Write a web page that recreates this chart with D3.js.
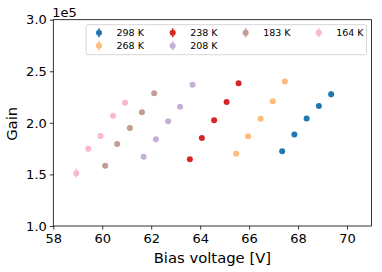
<!DOCTYPE html>
<html>
<head>
<meta charset="utf-8">
<script src="https://d3js.org/d3.v7.min.js"></script>
<style>
  body { margin: 0; background: #fff; }
  text { font-family: "DejaVu Sans", sans-serif; fill: #000; }
</style>
</head>
<body>
<div id="chart"></div>
<script>
// temperatures and colours (tab20 picks)
var temps = ["298 K", "268 K", "238 K", "208 K", "183 K", "164 K"];
var colors = ["#1f77b4", "#ffbb78", "#d62728", "#c5b0d5", "#c49c94", "#f7b6d2"];

// bias voltage per series [V]
var volt298 = [67.35, 67.85, 68.35, 68.85, 69.35];
var volt268 = [65.47, 65.96, 66.47, 66.97, 67.46];
var volt238 = [63.58, 64.07, 64.57, 65.08, 65.57];
var volt208 = [61.69, 62.19, 62.69, 63.18, 63.69];
var volt183 = [60.12, 60.61, 61.13, 61.62, 62.12];
var volt164 = [58.94, 59.43, 59.93, 60.44, 60.93];

// gain per series [x1e5]
var gain298 = [1.725, 1.886, 2.041, 2.164, 2.277];
var gain268 = [1.70, 1.87, 2.04, 2.21, 2.40];
var gain238 = [1.647, 1.854, 2.025, 2.203, 2.384];
var gain208 = [1.672, 1.841, 2.015, 2.157, 2.37];
var gain183 = [1.585, 1.795, 1.951, 2.103, 2.287];
var gain164 = [1.512, 1.75, 1.873, 2.07, 2.196];

// error bars [x1e5]
var err298 = [0.008, 0.008, 0.01, 0.012, 0.03];
var err268 = [0.006, 0.006, 0.008, 0.01, 0.012];
var err238 = [0.006, 0.006, 0.008, 0.01, 0.012];
var err208 = [0.006, 0.006, 0.008, 0.01, 0.012];
var err183 = [0.006, 0.006, 0.008, 0.01, 0.012];
var err164 = [0.045, 0.01, 0.01, 0.012, 0.012];

var xTicks = [58, 60, 62, 64, 66, 68, 70];
var yTicks = [1.0, 1.5, 2.0, 2.5, 3.0];

var volts = [volt298, volt268, volt238, volt208, volt183, volt164];
var gains = [gain298, gain268, gain238, gain208, gain183, gain164];
var errs = [err298, err268, err238, err208, err183, err164];

var W = 382, H = 272;
var m = {left: 53.3, right: 10.5, top: 19.7, bottom: 46};
var pw = W - m.left - m.right, ph = H - m.top - m.bottom;

var svg = d3.select("#chart").append("svg")
  .attr("width", W).attr("height", H);

var x = d3.scaleLinear().domain([58, 71]).range([0, pw]);
var y = d3.scaleLinear().domain([1.0, 3.0]).range([ph, 0]);

var g = svg.append("g").attr("transform", "translate(" + m.left + "," + m.top + ")");

// points with error bars
temps.forEach(function(t, k) {
  var pts = volts[k].map(function(v, i) { return {v: v, g: gains[k][i], e: errs[k][i]}; });
  var s = g.append("g");
  s.selectAll("line").data(pts).enter().append("line")
    .attr("x1", function(d) { return x(d.v); })
    .attr("x2", function(d) { return x(d.v); })
    .attr("y1", function(d) { return y(d.g - d.e); })
    .attr("y2", function(d) { return y(d.g + d.e); })
    .attr("stroke", colors[k]).attr("stroke-width", 1.5);
  s.selectAll("circle").data(pts).enter().append("circle")
    .attr("cx", function(d) { return x(d.v); })
    .attr("cy", function(d) { return y(d.g); })
    .attr("r", 3)
    .attr("fill", colors[k]);
});

// axes
var xAxis = g.append("g").attr("transform", "translate(0," + ph + ")")
  .call(d3.axisBottom(x).tickValues(xTicks).tickSize(3.5).tickPadding(4.5).tickFormat(d3.format("d")));
var yAxis = g.append("g")
  .call(d3.axisLeft(y).tickValues(yTicks).tickSize(3.5).tickPadding(3).tickFormat(d3.format(".1f")));
[xAxis, yAxis].forEach(function(a) {
  a.select(".domain").remove();
  a.selectAll("line").attr("stroke", "#000").attr("stroke-width", 0.8);
  a.selectAll("text").style("font-size", "13px").attr("font-family", "DejaVu Sans");
});

// frame
g.append("rect").attr("width", pw).attr("height", ph)
  .attr("fill", "none").attr("stroke", "#000").attr("stroke-width", 0.8);

// offset text
svg.append("text").attr("x", m.left - 1).attr("y", 16.7)
  .style("font-size", "13px").text("1e5");

// axis labels
svg.append("text").attr("x", m.left + pw / 2).attr("y", 263)
  .attr("text-anchor", "middle").style("font-size", "14.8px").text("Bias voltage [V]");
svg.append("text").attr("transform", "translate(17," + (m.top + ph / 2 + 1) + ") rotate(-90)")
  .attr("text-anchor", "middle").style("font-size", "14.8px").text("Gain");

// legend
var leg = svg.append("g");
leg.append("rect").attr("x", 86).attr("y", 24.7).attr("width", 280.5).attr("height", 30)
  .attr("rx", 2).attr("fill", "#fff").attr("fill-opacity", 0.8)
  .attr("stroke", "#ccc").attr("stroke-width", 0.8);
var colX = [99, 172.7, 245.7, 318.7];
var rowY = [32.7, 45.7];
temps.forEach(function(t, k) {
  var cx = colX[Math.floor(k / 2)], cy = rowY[k % 2];
  if (k >= 4) { cx = colX[k - 2]; cy = rowY[0]; }
  var e = leg.append("g");
  e.append("line").attr("x1", cx).attr("x2", cx).attr("y1", cy - 4.5).attr("y2", cy + 4.5)
    .attr("stroke", colors[k]).attr("stroke-width", 1.5);
  e.append("circle").attr("cx", cx).attr("cy", cy).attr("r", 3).attr("fill", colors[k]);
  e.append("text").attr("x", cx + 17.5).attr("y", cy + 3.5)
    .style("font-size", "9.5px").text(t);
});
</script>
</body>
</html>
